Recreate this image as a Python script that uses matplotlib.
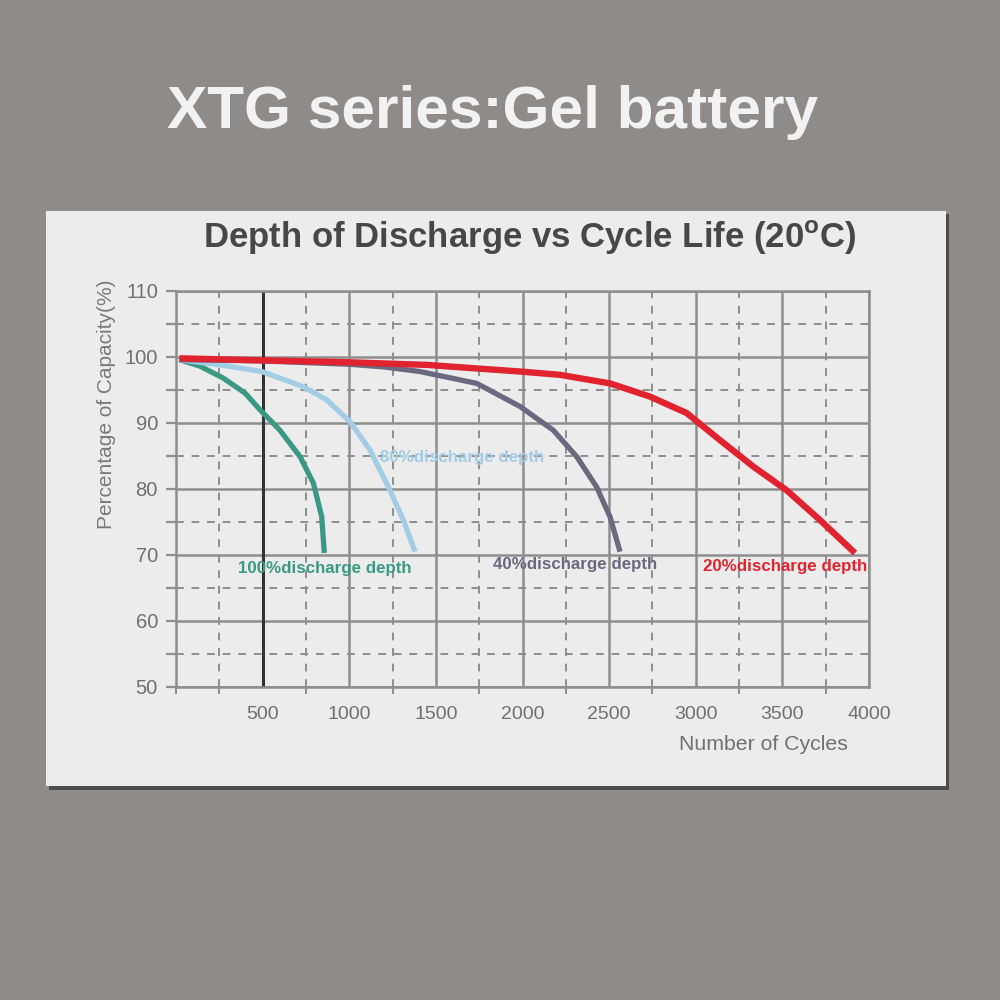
import matplotlib
matplotlib.use("Agg")
import matplotlib.pyplot as plt
from matplotlib.patches import Rectangle
from matplotlib.ticker import MultipleLocator

# cycles vs remaining capacity
cyc_100 = [20, 140, 273, 400, 485, 600, 716, 793, 841, 856]
cap_100 = [99.6, 98.6, 96.8, 94.5, 92.0, 88.9, 84.9, 80.9, 75.8, 70.3]

cyc_80 = [20, 254, 495, 735, 870, 1004, 1120, 1235, 1312, 1380]
cap_80 = [99.6, 98.8, 97.8, 95.5, 93.5, 90.2, 85.9, 79.8, 75.3, 70.5]

cyc_40 = [20, 500, 1000, 1200, 1408, 1736, 1986, 2178, 2313, 2428, 2505, 2563]
cap_40 = [99.6, 99.4, 98.9, 98.5, 97.8, 96.0, 92.5, 88.9, 84.9, 80.3, 75.8, 70.5]

cyc_20 = [20, 485, 1000, 1450, 1986, 2216, 2505, 2736, 2948, 3140, 3332, 3525, 3717, 3919]
cap_20 = [99.8, 99.5, 99.2, 98.8, 97.8, 97.3, 96.0, 94.0, 91.5, 87.4, 83.4, 79.8, 75.3, 70.3]

xticks = [500, 1000, 1500, 2000, 2500, 3000, 3500, 4000]
yticks = [50, 60, 70, 80, 90, 100, 110]

grid_c = '#8e8e8e'
txt_c = '#707070'

fig = plt.figure(figsize=(10, 10), dpi=100)
fig.patch.set_facecolor('#8f8b88')

# white card with a shadow
fig.patches.append(Rectangle((0.049, 0.210), 0.900, 0.576, transform=fig.transFigure,
                             facecolor='#4e4c4b', edgecolor='none', zorder=-2))
fig.patches.append(Rectangle((0.046, 0.214), 0.900, 0.575, transform=fig.transFigure,
                             facecolor='#ececec', edgecolor='none', zorder=-1))

fig.text(0.493, 0.887, 'XTG series:Gel battery', color='#f2f2f2', fontsize=43.5,
         fontweight='bold', family='Liberation Sans', ha='center', va='center')
fig.text(0.530, 0.762, 'Depth of Discharge vs Cycle Life (20$^{\\mathregular{o}}$C)',
         color='#474747', fontsize=25, fontweight='bold', family='Liberation Sans',
         ha='center', va='center')

ax = fig.add_axes([0.176, 0.313, 0.693, 0.396])
ax.set_facecolor('#ececec')
ax.set_xlim(0, 4000)
ax.set_ylim(50, 110)

ax.xaxis.set_major_locator(MultipleLocator(500))
ax.xaxis.set_minor_locator(MultipleLocator(250))
ax.yaxis.set_major_locator(MultipleLocator(10))
ax.yaxis.set_minor_locator(MultipleLocator(5))
ax.set_xticks(xticks)
ax.set_xticklabels([str(v) for v in xticks])
ax.set_yticks(yticks)
ax.set_yticklabels([str(v) for v in yticks])

ax.grid(which='major', color=grid_c, lw=1.8, ls='-')
ax.grid(which='minor', color=grid_c, lw=1.4, ls=(0, (4, 4)))
ax.set_axisbelow(True)
for s in ax.spines.values():
    s.set_color(grid_c)
    s.set_linewidth(1.8)

ax.tick_params(axis='x', which='major', length=0, pad=14, labelsize=14, labelcolor=txt_c)
ax.tick_params(axis='x', which='minor', length=5, width=1.4, color=grid_c)
ax.tick_params(axis='y', which='both', length=7, width=1.6, color=grid_c,
               pad=6, labelsize=14.5, labelcolor=txt_c)
for lab in ax.get_xticklabels() + ax.get_yticklabels():
    lab.set_family('Liberation Sans')

ax.axvline(500, color='#333333', lw=2.2, zorder=2)

ax.plot(cyc_100, cap_100, color='#3b9884', lw=3.8, solid_capstyle='butt',
        solid_joinstyle='round', zorder=3)
ax.plot(cyc_80, cap_80, color='#a2cde4', lw=3.8, solid_capstyle='butt',
        solid_joinstyle='round', zorder=3)
ax.plot(cyc_40, cap_40, color='#6b6880', lw=3.8, solid_capstyle='butt',
        solid_joinstyle='round', zorder=3)
ax.plot(cyc_20, cap_20, color='#e1232f', lw=4.6, solid_capstyle='butt',
        solid_joinstyle='round', zorder=4)

lab_kw = dict(fontsize=12.2, fontweight='bold', family='Liberation Sans', va='center', zorder=5)
ax.text(360, 67.9, '100%discharge depth', color='#3b9884', **lab_kw)
ax.text(1180, 84.7, '80%discharge depth', color='#a2cde4', **lab_kw)
ax.text(1830, 68.5, '40%discharge depth', color='#6b6880', **lab_kw)
ax.text(3040, 68.2, '20%discharge depth', color='#e1232f', **lab_kw)

fig.text(0.106, 0.596, 'Percentage of Capacity(%)', fontsize=15, color='#7a7a7a',
         family='Liberation Sans', rotation=90, ha='center', va='center')
fig.text(0.763, 0.255, 'Number of Cycles', fontsize=15.3, color=txt_c,
         family='Liberation Sans', ha='center', va='center')

fig.savefig('out.png', dpi=100, facecolor=fig.get_facecolor())
